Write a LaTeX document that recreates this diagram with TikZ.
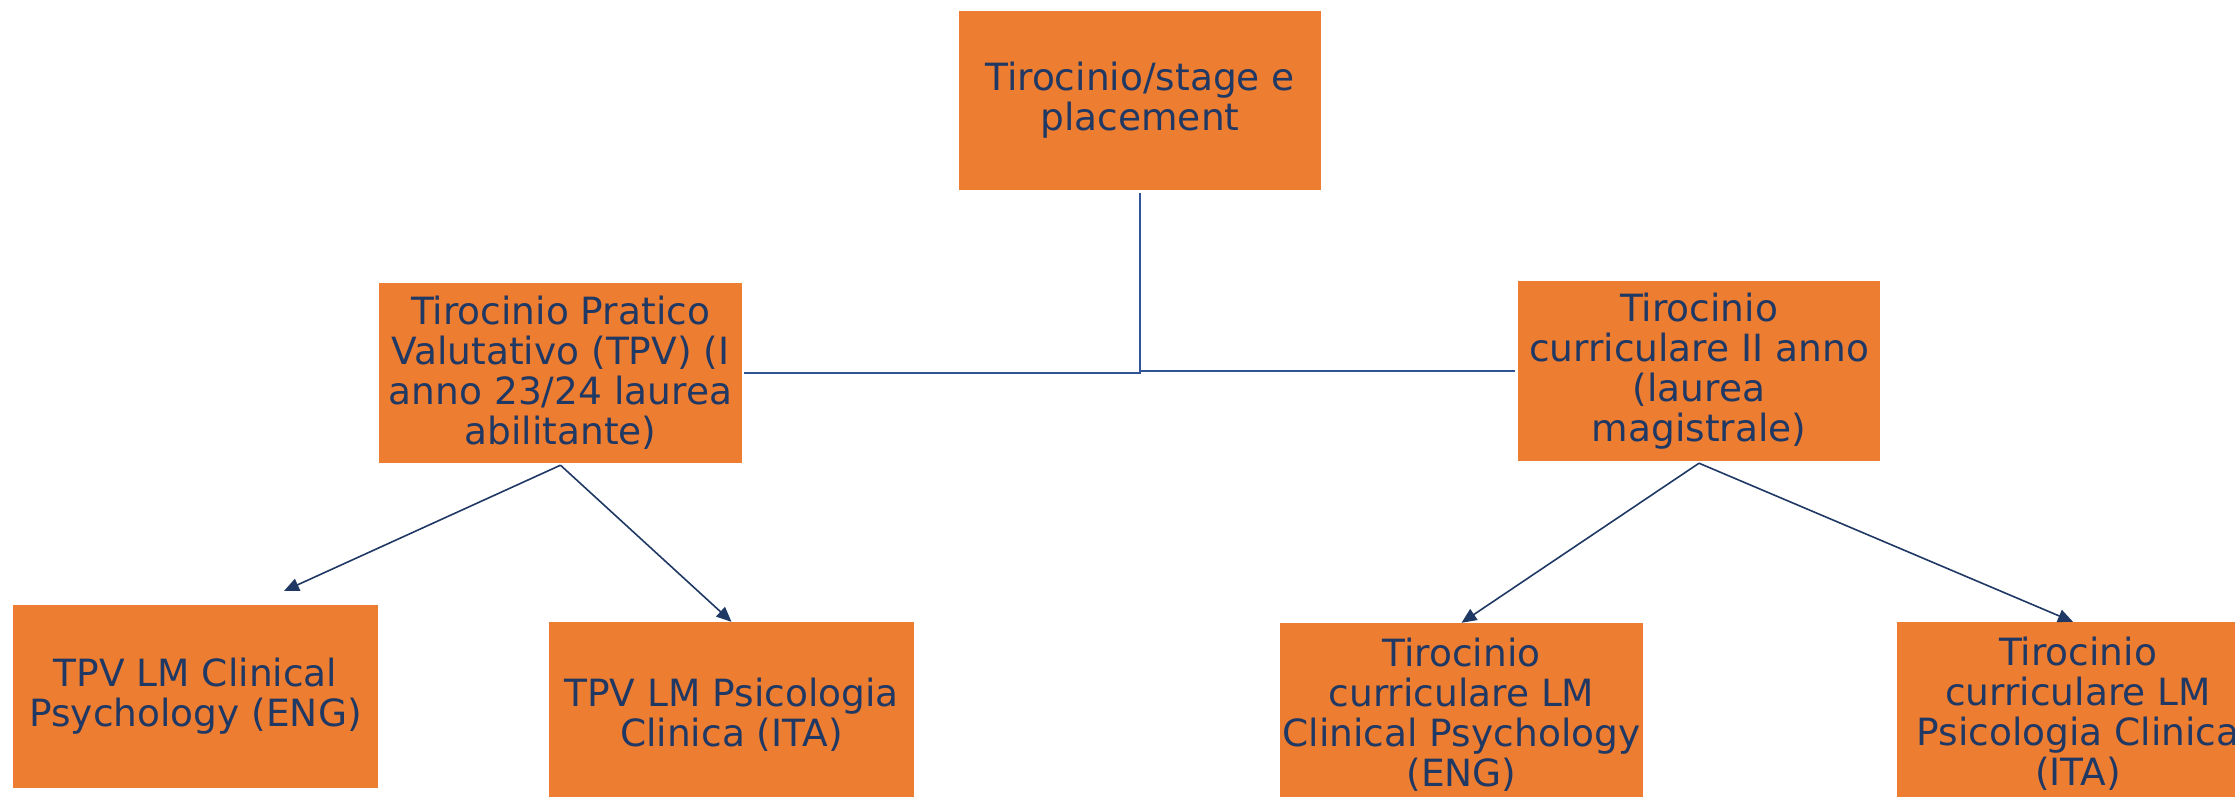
\documentclass[tikz,border=0pt]{standalone}
\usepackage{fontspec}
\setmainfont{DejaVu Sans}
\usetikzlibrary{arrows.meta}
\definecolor{boxorange}{HTML}{ED7D31}
\definecolor{navytext}{HTML}{1F3864}
\definecolor{treeblue}{HTML}{2F5597}
\tikzset{
  obox/.style={fill=boxorange, draw=none, inner sep=0pt, align=center,
    text=navytext, font=\fontsize{37.5}{40}\selectfont},
  treeline/.style={draw=treeblue, line width=2.2pt},
  arrowline/.style={draw=navytext, line width=1.6pt,
    -{Triangle[length=15pt,width=13pt]}}
}
\begin{document}
\begin{tikzpicture}[x=1pt,y=-1pt]
\useasboundingbox (0,0) rectangle (2235,797);
\clip (0,0) rectangle (2235,797);
\node[obox, minimum width=362pt, minimum height=179pt] (top) at (1140,100.5) {Tirocinio/stage e\\placement};
\node[obox, minimum width=363pt, minimum height=180pt] (tpv) at (560.5,373) {Tirocinio Pratico\\Valutativo (TPV) (I\\anno 23/24 laurea\\abilitante)};
\node[obox, minimum width=362pt, minimum height=180pt] (cur) at (1699,371) {Tirocinio\\curriculare II anno\\(laurea\\magistrale)};
\node[obox, minimum width=365pt, minimum height=183pt] (b1) at (195.5,696.5) {TPV LM Clinical\\Psychology (ENG)};
\node[obox, minimum width=365pt, minimum height=186pt] (b2) at (731.5,715) {TPV LM Psicologia\\Clinica (ITA)};
\node[obox, minimum width=363pt, minimum height=183pt] (b3) at (1461.5,714.5) {Tirocinio\\curriculare LM\\Clinical Psychology\\(ENG)};
\node[obox, minimum width=363pt, minimum height=184pt] (b4) at (2078,714) {Tirocinio\\curriculare LM\\Psicologia Clinica\\(ITA)};
% tree connectors
\coordinate (jl) at (1140,373);
\coordinate (jr) at (1140,371);
\draw[treeline] ([yshift=-3pt]top.south) -- (jl) -- ([xshift=2pt]tpv.east);
\draw[treeline] (jr) -- ([xshift=-3pt]cur.west);
% arrows
\coordinate (a1) at (284,591);
\draw[arrowline] ([yshift=-2pt]tpv.south) -- (a1);
\draw[arrowline] ([yshift=-2pt]tpv.south) -- (b2.north);
\draw[arrowline] ([yshift=-2pt]cur.south) -- (b3.north);
\draw[arrowline] ([yshift=-2pt]cur.south) -- ([xshift=-5pt]b4.north);
\end{tikzpicture}
\end{document}
